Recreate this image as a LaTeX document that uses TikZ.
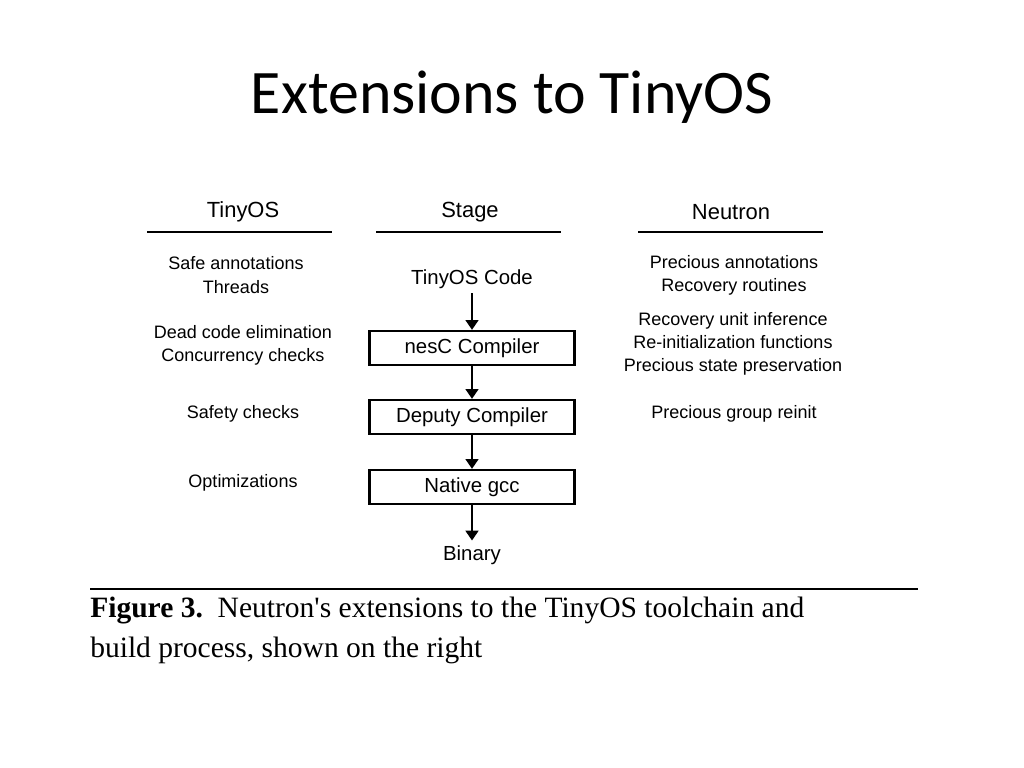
\documentclass[tikz,border=0pt]{standalone}
\usepackage{fontspec}
\setmainfont{Liberation Sans}
\newfontfamily\titlefont{Carlito}
\newfontfamily\capfont{Liberation Serif}
\usetikzlibrary{arrows.meta}
\begin{document}
\begin{tikzpicture}[x=0.025cm,y=-0.025cm,
  hdr/.style={font=\fontsize{15.6}{18}\selectfont},
  sm/.style={font=\fontsize{12.8}{16.5}\selectfont,align=center},
  stagebox/.style={draw,line width=1.6pt,minimum width=205*0.025cm,minimum height=34*0.025cm,font=\fontsize{14.5}{17}\selectfont,inner sep=0pt},
  arr/.style={line width=2pt,-{Triangle[length=7pt,width=9pt]}},
  rule/.style={line width=1.3pt}]
\useasboundingbox (0,0) rectangle (1024,768);
\node (title) at (512,97) {\titlefont\fontsize{44}{50}\selectfont Extensions to TinyOS};
\node[hdr] (h1) at (243,212) {TinyOS};
\node[hdr] (h2) at (470,212) {Stage};
\node[hdr] (h3) at (731,212) {Neutron};
\draw[rule] (147,232) -- (332,232);
\draw[rule] (376,232) -- (561,232);
\draw[rule] (638,232) -- (823,232);
\node[sm] (l1) at (236,275) {Safe annotations\\Threads};
\node[sm] (l2) at (243,345) {Dead code elimination\\Concurrency checks};
\node[sm] (l3) at (243,414) {Safety checks};
\node[sm] (l4) at (243,483) {Optimizations};
\node[hdr,font=\fontsize{14.5}{17}\selectfont] (code) at (472,279) {TinyOS Code};
\node[stagebox] (nesc) at (472,348) {nesC Compiler};
\node[stagebox] (dep) at (472,417) {Deputy Compiler};
\node[stagebox] (gcc) at (472,487) {Native gcc};
\node[font=\fontsize{14.5}{17}\selectfont] (bin) at (472,555) {Binary};
\draw[arr] (code) -- (nesc);
\draw[arr] (nesc) -- (dep);
\draw[arr] (dep) -- (gcc);
\draw[arr] (gcc) -- (bin);
\node[sm] (r1) at (734,275) {Precious annotations\\Recovery routines};
\node[sm] (r2) at (733,344) {Recovery unit inference\\Re-initialization functions\\Precious state preservation};
\node[sm] (r3) at (734,414) {Precious group reinit};
\draw[line width=0.8pt] (90,589) -- (918,589);
\node[anchor=north west,align=left,inner sep=0pt,font=\capfont\fontsize{21}{28}\selectfont] (cap) at (90,597) {\textbf{Figure 3.}\ \ Neutron's extensions to the TinyOS toolchain and\\build process, shown on the right};
\end{tikzpicture}
\end{document}
